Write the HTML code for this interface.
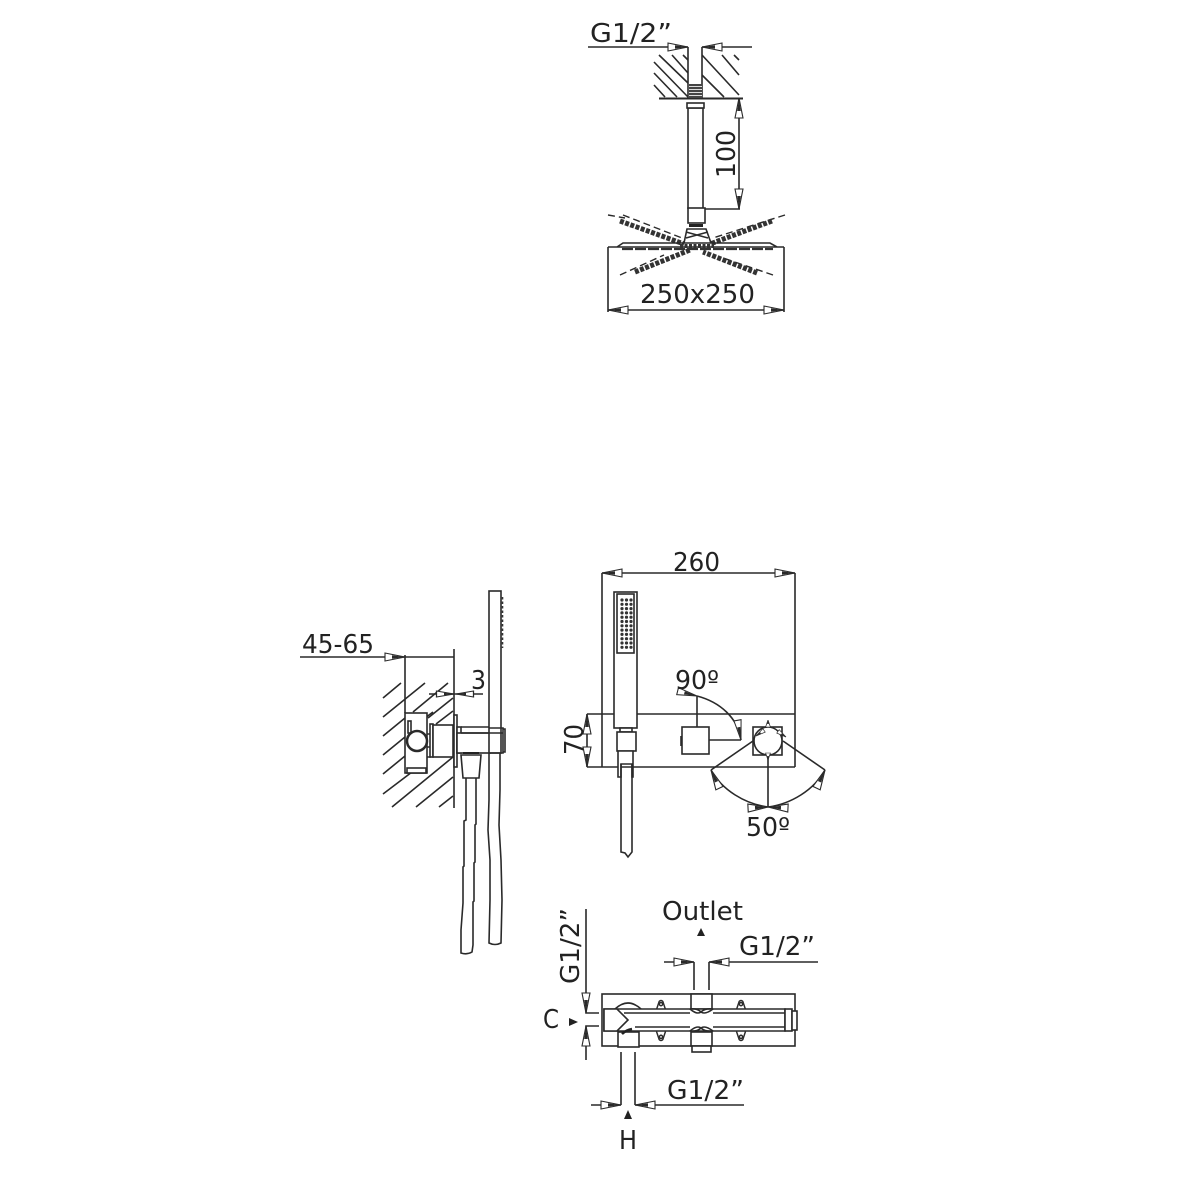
<!DOCTYPE html>
<html><head><meta charset="utf-8"><style>
html,body{margin:0;padding:0;background:#fff}
svg{display:block}
text{font-family:"DejaVu Sans","Liberation Sans",sans-serif;font-size:26px;fill:#222}
.l{fill:none;stroke:#2a2a2a;stroke-width:1.6}
.w{fill:#fff;stroke:#2a2a2a;stroke-width:1.6}
.d{fill:none;stroke:#2a2a2a;stroke-width:1.4;stroke-dasharray:7 4}
.n{fill:none;stroke:#333;stroke-width:5;stroke-dasharray:4 1.5}
</style></head><body>
<svg width="1181" height="1181" viewBox="0 0 1181 1181" xmlns="http://www.w3.org/2000/svg">
<defs>
<g id="a"><polygon points="0,0 -20,-4 -20,4" fill="#fff" stroke="#2a2a2a" stroke-width="1.1"/><polygon points="0,0 -13,-1.8 -13,1.8" fill="#2a2a2a"/></g>
<g id="s"><polygon points="0,0 -14,-3 -14,3" fill="#fff" stroke="#2a2a2a" stroke-width="1"/><polygon points="0,0 -8,-1.2 -8,1.2" fill="#2a2a2a"/></g>
<g id="lug"><path class="l" d="M-5,5 L-2,-4 Q0,-6 2,-4 L5,5"/><circle class="l" cx="0" cy="-1" r="1.8"/></g>
</defs>

<!-- TOP: ceiling shower -->
<text x="590" y="42" textLength="82" lengthAdjust="spacingAndGlyphs">G1/2”</text>
<path class="l" d="M654,62L688,97M654,73L677,97M654,85L665,97M659,55L688,83M672,55L688,73M683,55L688,60M702,75L724,97M702,55L739,95M722,55L739,75M734,55L739,60"/>
<path class="l" d="M688,47V98M702,47V98M588,47H688M702,47H752"/>
<use href="#a" transform="translate(688,47)"/>
<use href="#a" transform="translate(702,47) rotate(180)"/>
<path d="M659,98.5H743" stroke="#2a2a2a" stroke-width="2"/>
<rect x="689" y="84" width="13" height="14" fill="#444"/>
<path d="M689,86.5H702M689,89.5H702M689,92.5H702M689,95.5H702" stroke="#ddd" stroke-width="1"/>
<path class="w" d="M688,209V108H703V209"/>
<rect class="w" x="687" y="103" width="17" height="5"/>
<rect class="w" x="688" y="208" width="17" height="15"/>
<path class="l" d="M705,209H740M739,98V209"/>
<use href="#a" transform="translate(739,98) rotate(-90)"/>
<use href="#a" transform="translate(739,209) rotate(90)"/>
<text transform="translate(735,178) rotate(-90)" textLength="48" lengthAdjust="spacingAndGlyphs">100</text>
<!-- head -->
<path class="d" d="M608,215L625,218M623,215L682,238M785,215L713,238M620,275L664,255M773,275L723,258"/>
<path class="n" d="M620,221L684,244M772,221L710,244M635,272L690,250M757,273L703,252"/>
<path class="l" d="M608,247H784M608,247V312M784,247V312M617,247L623,243H770L777,247"/>
<path d="M622,249H773" stroke="#333" stroke-width="2.2" stroke-dasharray="11 2"/>
<path d="M689,225.5H703" stroke="#222" stroke-width="3"/>
<path class="l" d="M684,243L687,229H706L711,243M686,238L708,232M708,238L686,232"/>
<path d="M680,246H714" stroke="#333" stroke-width="4" stroke-dasharray="3 1.5"/>
<path class="l" d="M608,310H784"/>
<use href="#a" transform="translate(608,310) rotate(180)"/>
<use href="#a" transform="translate(784,310)"/>
<text x="640" y="303" textLength="115" lengthAdjust="spacingAndGlyphs">250x250</text>

<!-- LEFT: side view -->
<text x="302" y="653" textLength="72" lengthAdjust="spacingAndGlyphs">45-65</text>
<path class="l" d="M300,657H454M405,655V713M454,649V808"/>
<use href="#a" transform="translate(405,657)"/>
<path class="l" d="M383,698L401,683M383,717L425,683M383,736L405,718M383,755L405,737M383,774L405,756M383,794L412,772M392,807L453,757M416,807L453,777M439,807L453,796M413,712L448,683M428,718L453,698M405,733L433,712M436,724L453,711"/>
<text x="471" y="689" textLength="15" lengthAdjust="spacingAndGlyphs">3</text>
<path class="l" d="M429,694H483"/>
<use href="#s" transform="translate(454,694) scale(1.25,1)"/>
<use href="#s" transform="translate(456,694) rotate(180) scale(1.25,1)"/>
<rect class="w" x="405" y="713" width="22" height="60"/>
<rect class="w" x="407" y="768" width="19" height="5"/>
<rect class="w" x="408" y="721" width="3" height="12"/>
<circle cx="417" cy="741" r="10" fill="#fff" stroke="#2a2a2a" stroke-width="2.5"/>
<path class="l" d="M427,734H431M427,747H431M427,757H431"/>
<rect class="w" x="430" y="724" width="3" height="33"/>
<rect class="w" x="433" y="725" width="20" height="32"/>
<rect x="454" y="715" width="3" height="52" fill="#fff" stroke="#2a2a2a" stroke-width="1.6"/>
<rect class="w" x="457" y="727" width="4" height="26"/>
<rect class="w" x="457" y="733" width="33" height="20"/>
<path class="l" d="M461,727H490M461,733H490"/>
<rect class="w" x="489" y="591" width="12" height="162"/>
<path class="l" d="M489,728H503V753H489M489,733H503M503,729H505V752H503"/>
<path d="M502.5,597V648" stroke="#333" stroke-width="1.6" stroke-dasharray="2.5 2"/>
<path class="w" d="M461,755L463,778H479L481,755Z"/>
<path d="M463,753H479" stroke="#222" stroke-width="2"/>
<path class="l" d="M466,778V820L464,821V866L463,867V903L461,930L461,953Q467,955 472,952L473,945V902L474,901V863L475,862V825L476,824V778"/>
<path class="l" d="M489,753V800L488,830L490,860L490,900L489,943Q495,946 501,943L502,900L501,860L499,825L500,790V753"/>

<!-- RIGHT: front view -->
<text x="673" y="571" textLength="47" lengthAdjust="spacingAndGlyphs">260</text>
<path class="l" d="M602,573H795M602,573V767M795,573V767M587,714H795M587,767H795M587,714V767"/>
<use href="#a" transform="translate(602,573) rotate(180)"/>
<use href="#a" transform="translate(795,573)"/>
<use href="#a" transform="translate(587,714) rotate(-90)"/>
<use href="#a" transform="translate(587,767) rotate(90)"/>
<text transform="translate(583,755) rotate(-90)" textLength="31" lengthAdjust="spacingAndGlyphs">70</text>
<rect class="w" x="614" y="592" width="23" height="136"/>
<rect class="l" x="617" y="594" width="17" height="59"/>
<g fill="#333">
<circle cx="622" cy="600" r="1.6"/><circle cx="626.5" cy="600" r="1.6"/><circle cx="631" cy="600" r="1.6"/>
<circle cx="622" cy="604.3" r="1.6"/><circle cx="626.5" cy="604.3" r="1.6"/><circle cx="631" cy="604.3" r="1.6"/>
<circle cx="622" cy="608.6" r="1.6"/><circle cx="626.5" cy="608.6" r="1.6"/><circle cx="631" cy="608.6" r="1.6"/>
<circle cx="622" cy="612.9" r="1.6"/><circle cx="626.5" cy="612.9" r="1.6"/><circle cx="631" cy="612.9" r="1.6"/>
<circle cx="622" cy="617.2" r="1.6"/><circle cx="626.5" cy="617.2" r="1.6"/><circle cx="631" cy="617.2" r="1.6"/>
<circle cx="622" cy="621.5" r="1.6"/><circle cx="626.5" cy="621.5" r="1.6"/><circle cx="631" cy="621.5" r="1.6"/>
<circle cx="622" cy="625.8" r="1.6"/><circle cx="626.5" cy="625.8" r="1.6"/><circle cx="631" cy="625.8" r="1.6"/>
<circle cx="622" cy="630.1" r="1.6"/><circle cx="626.5" cy="630.1" r="1.6"/><circle cx="631" cy="630.1" r="1.6"/>
<circle cx="622" cy="634.4" r="1.6"/><circle cx="626.5" cy="634.4" r="1.6"/><circle cx="631" cy="634.4" r="1.6"/>
<circle cx="622" cy="638.7" r="1.6"/><circle cx="626.5" cy="638.7" r="1.6"/><circle cx="631" cy="638.7" r="1.6"/>
<circle cx="622" cy="643" r="1.6"/><circle cx="626.5" cy="643" r="1.6"/><circle cx="631" cy="643" r="1.6"/>
<circle cx="622" cy="647.3" r="1.6"/><circle cx="626.5" cy="647.3" r="1.6"/><circle cx="631" cy="647.3" r="1.6"/>
</g>
<rect class="w" x="620" y="728" width="12" height="4"/>
<rect class="w" x="617" y="732" width="19" height="19"/>
<path class="w" d="M618,777V751H633V777H632V764H621V777Z"/>
<path class="l" d="M621,764V852L625,853L628,857L632,852V764"/>
<!-- 90 deg -->
<rect class="w" x="682" y="727" width="27" height="27"/>
<path class="l" d="M697,727V696M709,740H741M697,696C720,702 738,718 741,740M681,736V746"/>
<use href="#a" transform="translate(697,696) rotate(14) scale(1,.9)"/>
<use href="#a" transform="translate(741,740) rotate(80) scale(1,.9)"/>
<text x="675" y="689" textLength="44" lengthAdjust="spacingAndGlyphs">90º</text>
<!-- 50 deg -->
<rect class="w" x="753" y="727" width="29" height="28"/>
<circle class="w" cx="768" cy="741" r="14"/>
<path class="l" d="M753,741L711,770M783,741L825,770M768,755V807M711,770C722,790 745,804 768,807C791,804 814,790 825,770"/>
<use href="#s" transform="translate(756,736) rotate(145) scale(.7)"/>
<use href="#s" transform="translate(786,737) rotate(35) scale(.7)"/>
<use href="#s" transform="translate(768,720) rotate(-90) scale(.5,.8)"/>
<use href="#s" transform="translate(768,760) rotate(90) scale(.5,.8)"/>
<use href="#a" transform="translate(711,770) rotate(-115)"/>
<use href="#a" transform="translate(825,770) rotate(-65)"/>
<use href="#a" transform="translate(768,807) rotate(-3)"/>
<use href="#a" transform="translate(768,807) rotate(183)"/>
<text x="746" y="836" textLength="44" lengthAdjust="spacingAndGlyphs">50º</text>

<!-- BOTTOM: plan view -->
<text x="662" y="920" textLength="81" lengthAdjust="spacingAndGlyphs">Outlet</text>
<polygon points="701,928 697,936 705,936" fill="#222"/>
<text x="739" y="955" textLength="76" lengthAdjust="spacingAndGlyphs">G1/2”</text>
<path class="l" d="M664,962H694M709,962H818M694,962V990M709,962V990"/>
<use href="#a" transform="translate(694,962)"/>
<use href="#a" transform="translate(709,962) rotate(180)"/>
<text transform="translate(579,984) rotate(-90)" textLength="76" lengthAdjust="spacingAndGlyphs">G1/2”</text>
<path class="l" d="M586,909V1013H599M586,1060V1026H599"/>
<use href="#a" transform="translate(586,1013) rotate(90)"/>
<use href="#a" transform="translate(586,1026) rotate(-90)"/>
<text x="543" y="1028" textLength="16" lengthAdjust="spacingAndGlyphs">C</text>
<polygon points="578,1022 569,1018 569,1026" fill="#222"/>
<rect class="w" x="602" y="994" width="193" height="52"/>
<path class="l" d="M615,1009Q628,997 641,1009"/>
<use href="#lug" transform="translate(661,1005) scale(.9)"/>
<use href="#lug" transform="translate(741,1005) scale(.9)"/>
<use href="#lug" transform="translate(661,1036) scale(.9,-.9)"/>
<use href="#lug" transform="translate(741,1036) scale(.9,-.9)"/>
<rect class="w" x="691" y="994" width="21" height="15"/>
<rect class="w" x="691" y="1032" width="21" height="14"/>
<rect class="w" x="692" y="1046" width="19" height="6"/>
<rect class="w" x="618" y="1032" width="21" height="15"/>
<path class="w" d="M604,1009H785V1031H604Z"/>
<path d="M624,1013H785M635,1027H785" stroke="#2a2a2a" stroke-width="1.6"/>
<path class="w" d="M604,1009H617L628,1020L617,1031H604Z"/>
<path d="M632,1029Q626,1030 622,1034" fill="none" stroke="#222" stroke-width="2.5"/>
<rect x="690" y="1010" width="23" height="20" fill="#fff"/>
<path class="l" d="M690,1009Q697,1008 701,1012Q705,1008 713,1009M690,1009Q697,1015 701,1012Q705,1015 713,1009M690,1031Q697,1032 701,1028Q705,1032 713,1031M690,1031Q697,1025 701,1028Q705,1025 713,1031"/>
<rect class="w" x="785" y="1009" width="7" height="22"/>
<rect class="w" x="792" y="1011" width="5" height="19"/>
<path class="l" d="M621,1052V1105M635,1052V1105M591,1105H621M635,1105H744"/>
<use href="#a" transform="translate(621,1105)"/>
<use href="#a" transform="translate(635,1105) rotate(180)"/>
<text x="667" y="1099" textLength="77" lengthAdjust="spacingAndGlyphs">G1/2”</text>
<polygon points="628,1110 624,1119 632,1119" fill="#222"/>
<text x="619" y="1149" textLength="18" lengthAdjust="spacingAndGlyphs">H</text>
</svg>
</body></html>
